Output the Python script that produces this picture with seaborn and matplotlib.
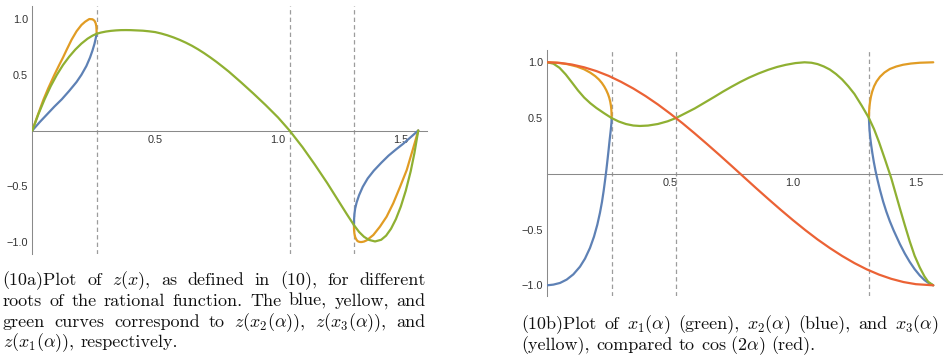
import matplotlib
matplotlib.use("Agg")
import matplotlib.pyplot as plt
import seaborn as sns
from matplotlib.ticker import FixedLocator, NullFormatter

# ---------------- data: panel (10a) z(x) ----------------
a_green_alpha = [0, 0.025, 0.05, 0.075, 0.1, 0.125, 0.15, 0.175, 0.2, 0.225, 0.245, 0.2618,
                 0.28, 0.3, 0.32, 0.34, 0.36, 0.38, 0.4, 0.425, 0.45, 0.475, 0.5, 0.525, 0.55,
                 0.575, 0.6, 0.625, 0.65, 0.675, 0.7, 0.725, 0.75, 0.775, 0.8, 0.85, 0.9, 0.95,
                 1.0, 1.047, 1.1, 1.15, 1.2, 1.25, 1.28, 1.309, 1.33, 1.35, 1.37, 1.395, 1.42,
                 1.44, 1.46, 1.48, 1.5, 1.52, 1.54, 1.555, 1.5708]
a_green_z = [0, 0.148, 0.28, 0.398, 0.50, 0.588, 0.662, 0.726, 0.78, 0.824, 0.851, 0.868,
             0.879, 0.888, 0.894, 0.898, 0.9005, 0.901, 0.9005, 0.898, 0.8955, 0.89, 0.883,
             0.87, 0.854, 0.835, 0.813, 0.788, 0.76, 0.728, 0.693, 0.655, 0.615, 0.572, 0.528,
             0.4315, 0.3315, 0.2275, 0.1175, 0.0, -0.15, -0.306, -0.47, -0.645, -0.75, -0.848,
             -0.91, -0.953, -0.981, -0.995, -0.98, -0.943, -0.881, -0.794, -0.681, -0.54,
             -0.366, -0.205, 0.0]

a_blue1_alpha = [0, 0.03, 0.06, 0.09, 0.12, 0.15, 0.18, 0.2, 0.22, 0.235, 0.245, 0.253, 0.258, 0.2618]
a_blue1_z = [0, 0.075, 0.145, 0.215, 0.28, 0.355, 0.435, 0.5, 0.578, 0.655, 0.718, 0.777, 0.825, 0.868]
a_blue2_alpha = [1.309, 1.3095, 1.311, 1.314, 1.32, 1.33, 1.345, 1.365, 1.39, 1.42, 1.45, 1.48,
                 1.51, 1.54, 1.5708]
a_blue2_z = [-0.848, -0.80, -0.75, -0.70, -0.645, -0.58, -0.505, -0.43, -0.36, -0.29, -0.225,
             -0.17, -0.118, -0.06, 0.0]

a_orange1_alpha = [0, 0.02, 0.045, 0.065, 0.09, 0.11, 0.125, 0.14, 0.16, 0.18, 0.2, 0.215, 0.232,
                   0.245, 0.253, 0.258, 0.2605, 0.2614, 0.2618]
a_orange1_z = [0, 0.125, 0.275, 0.38, 0.50, 0.59, 0.655, 0.725, 0.815, 0.89, 0.947, 0.976, 1.0,
               0.998, 0.985, 0.962, 0.935, 0.905, 0.868]
a_orange2_alpha = [1.309, 1.3095, 1.311, 1.314, 1.3175, 1.322, 1.327, 1.334, 1.341, 1.35, 1.361,
                   1.388, 1.415, 1.442, 1.469, 1.497, 1.524, 1.544, 1.558, 1.5708]
a_orange2_z = [-0.848, -0.89, -0.925, -0.955, -0.972, -0.988, -0.996, -1.0, -1.0, -0.996, -0.985,
               -0.937, -0.862, -0.773, -0.653, -0.504, -0.354, -0.205, -0.1, 0.0]

a_dashed = [0.2618, 1.0472, 1.3090]

# ---------------- data: panel (10b) x_i(alpha) ----------------
b_red_alpha = [0, 0.05, 0.1, 0.15, 0.2, 0.25, 0.3, 0.35, 0.4, 0.45, 0.5, 0.55, 0.6, 0.65, 0.7,
               0.75, 0.8, 0.85, 0.9, 0.95, 1.0, 1.05, 1.1, 1.15, 1.2, 1.25, 1.3, 1.35, 1.4,
               1.45, 1.5, 1.5708]
b_red_x = [1.0, 0.995, 0.98, 0.955, 0.921, 0.878, 0.825, 0.765, 0.697, 0.622, 0.54, 0.454,
           0.362, 0.267, 0.17, 0.071, -0.029, -0.129, -0.227, -0.323, -0.416, -0.505, -0.589,
           -0.666, -0.737, -0.801, -0.857, -0.904, -0.942, -0.971, -0.99, -1.0]

b_green_alpha = [0, 0.025, 0.05, 0.075, 0.1, 0.125, 0.15, 0.175, 0.2, 0.23, 0.2618, 0.29, 0.32,
                 0.35, 0.377, 0.41, 0.45, 0.49, 0.5236, 0.56, 0.6, 0.64, 0.68, 0.715, 0.75,
                 0.785, 0.82, 0.86, 0.9, 0.935, 0.97, 1.01, 1.047, 1.075, 1.1, 1.125, 1.15,
                 1.175, 1.2, 1.225, 1.25, 1.28, 1.309, 1.33, 1.35, 1.375, 1.4, 1.435, 1.455,
                 1.475, 1.495, 1.516, 1.535, 1.55, 1.5708]
b_green_x = [1.0, 0.9875, 0.95, 0.891, 0.82, 0.7475, 0.684, 0.633, 0.59, 0.545, 0.5, 0.4696,
             0.4464, 0.4329, 0.429, 0.4326, 0.4466, 0.4711, 0.5, 0.541, 0.586, 0.638, 0.69,
             0.737, 0.781, 0.823, 0.8615, 0.9, 0.9335, 0.958, 0.977, 0.993, 1.0, 0.996, 0.984,
             0.963, 0.935, 0.895, 0.846, 0.785, 0.716, 0.61, 0.5, 0.40, 0.285, 0.125, -0.04,
             -0.31, -0.46, -0.605, -0.735, -0.84, -0.92, -0.968, -1.0]

b_blue1_alpha = [0, 0.0245, 0.0517, 0.0788, 0.1059, 0.133, 0.1534, 0.1737, 0.19, 0.2036, 0.2144,
                 0.2225, 0.2293, 0.2347, 0.2402, 0.2456, 0.2497, 0.2537, 0.2571, 0.2596, 0.2611,
                 0.2618]
b_blue1_x = [-1.0, -0.994, -0.979, -0.949, -0.902, -0.833, -0.761, -0.665, -0.564, -0.456, -0.349,
             -0.253, -0.154, -0.065, 0.031, 0.136, 0.219, 0.303, 0.369, 0.42, 0.459, 0.5]
b_blue2_alpha = [1.309, 1.3102, 1.3115, 1.314, 1.318, 1.323, 1.329, 1.336, 1.344, 1.354, 1.367,
                 1.38, 1.394, 1.41, 1.435, 1.455, 1.475, 1.495, 1.516, 1.535, 1.55, 1.5708]
b_blue2_x = [0.5, 0.44, 0.39, 0.33, 0.26, 0.185, 0.105, 0.025, -0.055, -0.145, -0.25, -0.34,
             -0.425, -0.51, -0.63, -0.715, -0.79, -0.855, -0.912, -0.953, -0.977, -1.0]

b_orange1_alpha = [0, 0.04, 0.08, 0.12, 0.15, 0.175, 0.195, 0.21, 0.222, 0.232, 0.24, 0.247,
                   0.252, 0.256, 0.259, 0.2605, 0.2613, 0.2618]
b_orange1_x = [1.0, 0.996, 0.984, 0.962, 0.937, 0.907, 0.876, 0.846, 0.815, 0.782, 0.75, 0.715,
               0.683, 0.648, 0.61, 0.58, 0.55, 0.5]
b_orange2_alpha = [1.309, 1.3095, 1.311, 1.3135, 1.317, 1.322, 1.33, 1.34, 1.354, 1.372, 1.394,
                   1.42, 1.448, 1.48, 1.516, 1.5708]
b_orange2_x = [0.5, 0.545, 0.6, 0.645, 0.69, 0.735, 0.785, 0.828, 0.87, 0.908, 0.94, 0.962,
               0.978, 0.989, 0.996, 1.0]

b_dashed = [0.2618, 0.5236, 1.3090]

x_major = [0.5, 1.0, 1.5]
x_major_labels = ["0.5", "1.0", "1.5"]
x_minor = [0.1, 0.2, 0.3, 0.4, 0.6, 0.7, 0.8, 0.9, 1.1, 1.2, 1.3, 1.4, 1.6]
y_major = [-1.0, -0.5, 0.5, 1.0]
y_major_labels = ["\u22121.0", "\u22120.5", "0.5", "1.0"]
y_minor = [-1.1, -0.9, -0.8, -0.7, -0.6, -0.4, -0.3, -0.2, -0.1,
           0.1, 0.2, 0.3, 0.4, 0.6, 0.7, 0.8, 0.9, 1.1]

caption_a = ["(10a)Plot of $z(x)$, as defined in (10), for different",
             "roots of the rational function. The blue, yellow, and",
             "green curves correspond to $z(x_2(\\alpha))$, $z(x_3(\\alpha))$, and",
             "$z(x_1(\\alpha))$, respectively."]
caption_b = ["(10b)Plot of $x_1(\\alpha)$ (green), $x_2(\\alpha)$ (blue), and $x_3(\\alpha)$",
             "(yellow), compared to $\\cos\\,(2\\alpha)$ (red)."]

# ---------------- style ----------------
BLUE, ORANGE, GREEN, RED = "#5E81B5", "#E19C24", "#8FB032", "#EB6235"
AXC = "#8a8a8a"
W, H, DPI = 948, 360, 100

sns.set_style("white")
plt.rcParams["font.family"] = ["Liberation Sans", "DejaVu Sans"]
plt.rcParams["mathtext.fontset"] = "cm"

fig = plt.figure(figsize=(W / DPI, H / DPI), dpi=DPI)
ax_a = fig.add_axes([32.3 / W, (H - 254.04) / H, 394.35 / W, 248.04 / H])
ax_b = fig.add_axes([547.3 / W, (H - 296.45) / H, 394.35 / W, 246.42 / H])


def style(ax, ylim):
    ax.set_xlim(0, 1.605)
    ax.set_ylim(*ylim)
    ax.patch.set_alpha(0)
    for s in ["top", "right"]:
        ax.spines[s].set_visible(False)
    ax.spines["bottom"].set_position(("data", 0))
    ax.spines["left"].set_position(("data", 0))
    for s in ["bottom", "left"]:
        ax.spines[s].set_color(AXC)
        ax.spines[s].set_linewidth(0.75)
        ax.spines[s].set_zorder(2)
    ax.xaxis.set_major_locator(FixedLocator(x_major))
    ax.set_xticklabels(x_major_labels)
    ax.xaxis.set_minor_locator(FixedLocator(x_minor))
    ax.yaxis.set_major_locator(FixedLocator(y_major))
    ax.set_yticklabels(y_major_labels)
    ax.yaxis.set_minor_locator(FixedLocator(y_minor))
    ax.xaxis.set_minor_formatter(NullFormatter())
    ax.yaxis.set_minor_formatter(NullFormatter())
    ax.tick_params(which="both", direction="in", color=AXC, width=0.75,
                   labelsize=7.8, labelcolor="#333333", pad=3)
    ax.tick_params(which="major", length=3.2)
    ax.tick_params(which="minor", length=1.9)
    ax.set_xlabel("")
    ax.set_ylabel("")


def curve(ax, xs, ys, color):
    sns.lineplot(x=xs, y=ys, ax=ax, color=color, linewidth=1.6, sort=False,
                 estimator=None, zorder=3)


for v in a_dashed:
    ax_a.axvline(v, color="#9c9c9c", lw=0.9, dashes=(3.5, 2.5), zorder=1)
curve(ax_a, a_orange1_alpha, a_orange1_z, ORANGE)
curve(ax_a, a_orange2_alpha, a_orange2_z, ORANGE)
curve(ax_a, a_blue1_alpha, a_blue1_z, BLUE)
curve(ax_a, a_blue2_alpha, a_blue2_z, BLUE)
curve(ax_a, a_green_alpha, a_green_z, GREEN)
style(ax_a, (-1.108, 1.117))

for v in b_dashed:
    ax_b.axvline(v, color="#9c9c9c", lw=0.9, dashes=(3.5, 2.5), zorder=1)
curve(ax_b, b_blue1_alpha, b_blue1_x, BLUE)
curve(ax_b, b_blue2_alpha, b_blue2_x, BLUE)
curve(ax_b, b_orange1_alpha, b_orange1_x, ORANGE)
curve(ax_b, b_orange2_alpha, b_orange2_x, ORANGE)
curve(ax_b, b_green_alpha, b_green_x, GREEN)
curve(ax_b, b_red_alpha, b_red_x, RED)
style(ax_b, (-1.10, 1.11))

# ---------------- captions (justified) ----------------
FS = 13.0
renderer = fig.canvas.get_renderer()


def caption(lines, x0, x1, baselines):
    for i, (line, yb) in enumerate(zip(lines, baselines)):
        words = line.split(" ")
        ts = [fig.text(0, 1 - yb / H, w, fontsize=FS, family="cmr10", va="baseline",
                       ha="left", color="#111111") for w in words]
        widths = [t.get_window_extent(renderer=renderer).width for t in ts]
        justify = i < len(lines) - 1
        if justify and len(words) > 1:
            gap = (x1 - x0 - sum(widths)) / (len(words) - 1)
        else:
            gap = 0.333 * FS * DPI / 72
        x = x0
        for t, w in zip(ts, widths):
            t.set_x(x / W)
            x += w + gap


caption(caption_a, 2.7, 425.5, [285, 306, 326.7, 347.3])
caption(caption_b, 521.7, 938.3, [329, 350])

fig.savefig("out.png", dpi=DPI)
